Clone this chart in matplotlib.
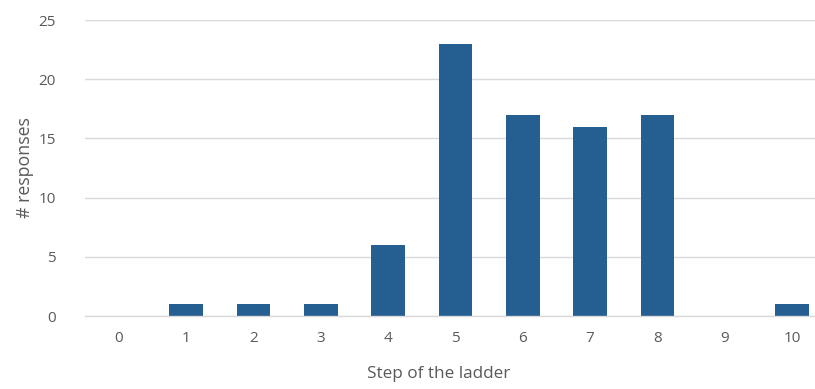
import matplotlib
matplotlib.use("Agg")
import matplotlib.pyplot as plt

categories = [0, 1, 2, 3, 4, 5, 6, 7, 8, 9, 10]
responses = [0, 1, 1, 1, 6, 23, 17, 16, 17, 0, 1]
y_ticks = [0, 5, 10, 15, 20, 25]

plt.rcParams['font.family'] = ['Open Sans', 'DejaVu Sans']
fig = plt.figure(figsize=(8.15, 3.89), dpi=100)
ax = fig.add_axes([85/815, 73/389, 1 - 85/815, (316-20)/389])

ax.bar(categories, responses, width=0.5, color='#255E91', zorder=3)
ax.set_xlim(-0.5, 10.34)
ax.set_ylim(0, 25)
ax.set_yticks(y_ticks)
ax.set_xticks(categories)
ax.set_xticklabels([str(c) for c in categories])
ax.yaxis.grid(True, color='#d9d9d9', linewidth=1, zorder=0)
for s in ['top', 'right', 'left']:
    ax.spines[s].set_visible(False)
ax.spines['bottom'].set_color('#d9d9d9')
ax.spines['bottom'].set_linewidth(1)
ax.spines['bottom'].set_zorder(4)
ax.tick_params(axis='both', length=0, colors='#595959', labelsize=11)
ax.tick_params(axis='x', pad=11)
ax.tick_params(axis='y', pad=21)
ax.set_xlabel('Step of the ladder', color='#595959', fontsize=12.3)
ax.xaxis.set_label_coords(0.485, -0.17)
ax.set_ylabel('# responses', color='#595959', fontsize=12.8, labelpad=3)
fig.savefig('out.png', dpi=100)
